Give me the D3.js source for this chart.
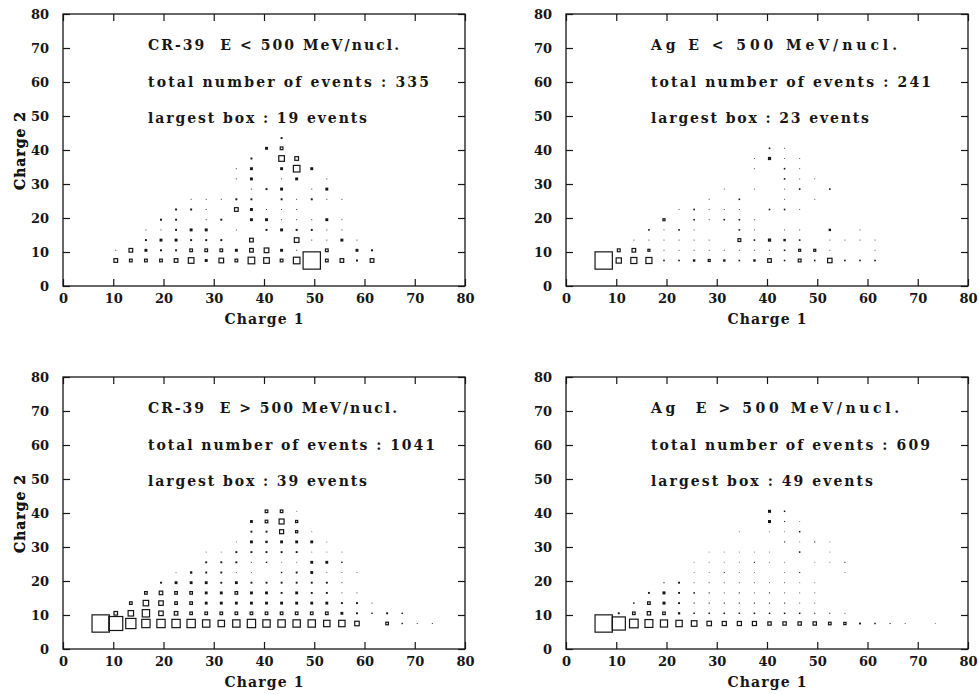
<!DOCTYPE html>
<html>
<head>
<meta charset="utf-8">
<script src="https://cdn.jsdelivr.net/npm/d3@7"></script>
<style>
  html, body { margin: 0; padding: 0; background: #fff; }
  svg { display: block; }
  text { font-family: "DejaVu Serif", serif; font-weight: bold; fill: #161616; }
</style>
</head>
<body>
<svg id="chart" width="979" height="694"></svg>
<script>
// ---- data -------------------------------------------------------------
const axisTicks = [0, 10, 20, 30, 40, 50, 60, 70, 80];
const panelTitles = ["CR-39  E < 500 MeV/nucl.", "Ag E < 500 MeV/nucl.",
                     "CR-39  E > 500 MeV/nucl.", "Ag  E > 500 MeV/nucl."];
const totalEvents = [335, 241, 1041, 609];
const largestBox = [19, 23, 39, 49];

// cells: [charge 1, charge 2, events], bins 3 charge units wide
const crLowCells = [
  [10.5,7.5,5],[13.5,7.5,4],[16.5,7.5,4],[19.5,7.5,4],[22.5,7.5,5],[25.5,7.5,7],[28.5,7.5,3],[31.5,7.5,6],[34.5,7.5,4],
  [37.5,7.5,8],[40.5,7.5,7],[43.5,7.5,4],[46.5,7.5,8],[49.5,7.5,19],[52.5,7.5,4],[55.5,7.5,5],[58.5,7.5,2],[61.5,7.5,5],
  [10.5,10.5,1],[13.5,10.5,5],[16.5,10.5,3],[19.5,10.5,2],[22.5,10.5,2],[25.5,10.5,4],[28.5,10.5,4],[31.5,10.5,4],
  [34.5,10.5,3],[37.5,10.5,5],[40.5,10.5,6],[43.5,10.5,3],[46.5,10.5,1],[52.5,10.5,4],[58.5,10.5,3],[61.5,10.5,2],
  [16.5,13.5,2],[19.5,13.5,3],[22.5,13.5,3],[25.5,13.5,2],[28.5,13.5,2],[31.5,13.5,2],[37.5,13.5,5],[46.5,13.5,6],
  [49.5,13.5,1],[52.5,13.5,1],[55.5,13.5,3],[58.5,13.5,1],
  [16.5,16.5,1],[19.5,16.5,1],[22.5,16.5,2],[25.5,16.5,3],[28.5,16.5,3],[34.5,16.5,1],[40.5,16.5,2],[43.5,16.5,3],
  [46.5,16.5,2],[49.5,16.5,2],[52.5,16.5,1],[55.5,16.5,1],
  [19.5,19.5,2],[22.5,19.5,2],[28.5,19.5,1],[31.5,19.5,2],[37.5,19.5,3],[40.5,19.5,3],[43.5,19.5,1],[46.5,19.5,1],
  [49.5,19.5,1],[52.5,19.5,3],[55.5,19.5,1],
  [22.5,22.5,2],[25.5,22.5,2],[28.5,22.5,1],[34.5,22.5,5],[37.5,22.5,3],[40.5,22.5,1],[43.5,22.5,1],[46.5,22.5,1],
  [25.5,25.5,1],[28.5,25.5,1],[31.5,25.5,1],[34.5,25.5,2],[37.5,25.5,2],[43.5,25.5,2],[46.5,25.5,1],[49.5,25.5,2],
  [52.5,25.5,1],[55.5,25.5,1],
  [37.5,28.5,1],[40.5,28.5,2],[43.5,28.5,3],[49.5,28.5,1],[52.5,28.5,3],
  [34.5,31.5,1],[37.5,31.5,3],[43.5,31.5,1],[46.5,31.5,3],[52.5,31.5,1],
  [34.5,34.5,1],[37.5,34.5,3],[43.5,34.5,3],[46.5,34.5,8],[49.5,34.5,3],
  [37.5,37.5,2],[43.5,37.5,7],[46.5,37.5,5],
  [40.5,40.5,3],[43.5,40.5,4],
  [43.5,43.5,2]
];

const agLowCells = [
  [7.5,7.5,23],[10.5,7.5,8],[13.5,7.5,9],[16.5,7.5,9],[19.5,7.5,2],[22.5,7.5,2],[25.5,7.5,3],[28.5,7.5,4],[31.5,7.5,3],
  [34.5,7.5,2],[37.5,7.5,3],[40.5,7.5,6],[43.5,7.5,2],[46.5,7.5,5],[49.5,7.5,2],[52.5,7.5,7],[55.5,7.5,2],[58.5,7.5,2],[61.5,7.5,2],
  [10.5,10.5,5],[13.5,10.5,6],[16.5,10.5,4],[19.5,10.5,1],[22.5,10.5,1],[25.5,10.5,1],[28.5,10.5,1],[31.5,10.5,1],
  [34.5,10.5,1],[37.5,10.5,1],[40.5,10.5,1],[43.5,10.5,2],[46.5,10.5,4],[49.5,10.5,4],[52.5,10.5,1],[61.5,10.5,1],
  [13.5,13.5,1],[16.5,13.5,1],[19.5,13.5,1],[22.5,13.5,1],[25.5,13.5,1],[28.5,13.5,1],[34.5,13.5,5],[37.5,13.5,2],
  [40.5,13.5,4],[43.5,13.5,3],[46.5,13.5,2],[52.5,13.5,1],[55.5,13.5,1],[58.5,13.5,1],[61.5,13.5,1],
  [16.5,16.5,2],[19.5,16.5,1],[22.5,16.5,2],[25.5,16.5,1],[34.5,16.5,2],[37.5,16.5,1],[43.5,16.5,1],[46.5,16.5,1],
  [52.5,16.5,3],[58.5,16.5,1],
  [19.5,19.5,4],[25.5,19.5,2],[28.5,19.5,1],[31.5,19.5,2],[34.5,19.5,2],[37.5,19.5,1],
  [22.5,22.5,1],[25.5,22.5,2],[28.5,22.5,1],[31.5,22.5,1],[34.5,22.5,1],[40.5,22.5,2],[43.5,22.5,2],[46.5,22.5,1],
  [28.5,25.5,1],[34.5,25.5,2],[43.5,25.5,1],[49.5,25.5,1],
  [31.5,28.5,1],[37.5,28.5,1],[43.5,28.5,1],[46.5,28.5,2],[52.5,28.5,2],
  [43.5,31.5,2],[46.5,31.5,1],[49.5,31.5,1],
  [37.5,34.5,1],[43.5,34.5,2],[46.5,34.5,1],
  [37.5,37.5,1],[40.5,37.5,4],[43.5,37.5,1],[46.5,37.5,1],
  [40.5,40.5,2],[43.5,40.5,1]
];

const crHighCells = [
  [7.5,7.5,39],[10.5,7.5,32],[13.5,7.5,24],[16.5,7.5,20],[19.5,7.5,20],[22.5,7.5,20],[25.5,7.5,20],[28.5,7.5,18],
  [31.5,7.5,16],[34.5,7.5,18],[37.5,7.5,20],[40.5,7.5,18],[43.5,7.5,18],[46.5,7.5,18],[49.5,7.5,18],[52.5,7.5,16],
  [55.5,7.5,16],[58.5,7.5,12],[64.5,7.5,8],[67.5,7.5,3],[70.5,7.5,2],[73.5,7.5,2],
  [10.5,10.5,10],[13.5,10.5,14],[16.5,10.5,18],[19.5,10.5,12],[22.5,10.5,10],[25.5,10.5,8],[28.5,10.5,8],[31.5,10.5,8],
  [34.5,10.5,8],[37.5,10.5,8],[40.5,10.5,8],[43.5,10.5,8],[46.5,10.5,8],[49.5,10.5,8],[52.5,10.5,8],[55.5,10.5,6],
  [58.5,10.5,4],[61.5,10.5,3],[64.5,10.5,4],[67.5,10.5,3],
  [13.5,13.5,8],[16.5,13.5,14],[19.5,13.5,12],[22.5,13.5,8],[25.5,13.5,8],[28.5,13.5,6],[31.5,13.5,6],[34.5,13.5,6],
  [37.5,13.5,6],[40.5,13.5,6],[43.5,13.5,6],[46.5,13.5,6],[49.5,13.5,6],[52.5,13.5,6],[55.5,13.5,4],[58.5,13.5,4],[61.5,13.5,2],
  [16.5,16.5,8],[19.5,16.5,10],[22.5,16.5,8],[25.5,16.5,8],[28.5,16.5,6],[31.5,16.5,6],[34.5,16.5,8],[37.5,16.5,6],
  [40.5,16.5,6],[43.5,16.5,4],[46.5,16.5,6],[49.5,16.5,4],[52.5,16.5,4],[55.5,16.5,2],[58.5,16.5,2],
  [19.5,19.5,4],[22.5,19.5,6],[25.5,19.5,6],[28.5,19.5,6],[31.5,19.5,4],[34.5,19.5,6],[37.5,19.5,4],[40.5,19.5,4],
  [43.5,19.5,4],[46.5,19.5,4],[49.5,19.5,4],[52.5,19.5,4],[55.5,19.5,2],
  [22.5,22.5,1],[25.5,22.5,5],[28.5,22.5,4],[31.5,22.5,4],[34.5,22.5,1],[37.5,22.5,1],[43.5,22.5,3],[46.5,22.5,4],
  [49.5,22.5,6],[52.5,22.5,1],[55.5,22.5,1],[58.5,22.5,1],
  [28.5,25.5,4],[31.5,25.5,4],[34.5,25.5,4],[37.5,25.5,2],[40.5,25.5,3],[43.5,25.5,1],[46.5,25.5,1],[49.5,25.5,6],
  [52.5,25.5,6],[55.5,25.5,3],
  [28.5,28.5,1],[31.5,28.5,1],[34.5,28.5,4],[37.5,28.5,4],[40.5,28.5,4],[43.5,28.5,4],[46.5,28.5,4],[49.5,28.5,1],
  [52.5,28.5,1],[55.5,28.5,1],
  [34.5,31.5,1],[37.5,31.5,6],[40.5,31.5,5],[43.5,31.5,6],[46.5,31.5,6],[49.5,31.5,6],[52.5,31.5,1],
  [37.5,34.5,4],[40.5,34.5,4],[43.5,34.5,11],[46.5,34.5,7],[49.5,34.5,1],
  [37.5,37.5,6],[40.5,37.5,8],[43.5,37.5,13],[46.5,37.5,7],
  [40.5,40.5,8],[43.5,40.5,8],[46.5,40.5,1]
];

const agHighCells = [
  [7.5,7.5,49],[10.5,7.5,38],[13.5,7.5,26],[16.5,7.5,24],[19.5,7.5,22],[22.5,7.5,20],[25.5,7.5,18],[28.5,7.5,15],
  [31.5,7.5,14],[34.5,7.5,14],[37.5,7.5,14],[40.5,7.5,12],[43.5,7.5,12],[46.5,7.5,12],[49.5,7.5,12],[52.5,7.5,10],
  [55.5,7.5,9],[58.5,7.5,5],[61.5,7.5,4],[64.5,7.5,3],[67.5,7.5,2],[73.5,7.5,1],
  [10.5,10.5,5],[13.5,10.5,10],[16.5,10.5,12],[19.5,10.5,10],[22.5,10.5,6],[25.5,10.5,4],[28.5,10.5,4],[31.5,10.5,4],
  [34.5,10.5,4],[37.5,10.5,4],[40.5,10.5,4],[43.5,10.5,4],[46.5,10.5,4],[49.5,10.5,3],[52.5,10.5,3],[55.5,10.5,2],
  [13.5,13.5,4],[16.5,13.5,10],[19.5,13.5,8],[22.5,13.5,5],[25.5,13.5,3],[28.5,13.5,3],[31.5,13.5,3],[34.5,13.5,3],
  [37.5,13.5,3],[40.5,13.5,3],[43.5,13.5,3],[46.5,13.5,2],[49.5,13.5,2],
  [16.5,16.5,5],[19.5,16.5,8],[22.5,16.5,5],[25.5,16.5,4],[28.5,16.5,3],[31.5,16.5,2],[34.5,16.5,3],[37.5,16.5,2],
  [40.5,16.5,3],[43.5,16.5,2],[46.5,16.5,2],[49.5,16.5,2],
  [19.5,19.5,3],[22.5,19.5,5],[25.5,19.5,2],[28.5,19.5,2],[31.5,19.5,2],[34.5,19.5,2],[37.5,19.5,2],[40.5,19.5,2],
  [43.5,19.5,2],[46.5,19.5,1],[49.5,19.5,1],
  [25.5,22.5,1],[28.5,22.5,1],[31.5,22.5,3],[34.5,22.5,1],[37.5,22.5,1],[43.5,22.5,1],[46.5,22.5,3],[55.5,22.5,1],
  [25.5,25.5,1],[28.5,25.5,1],[31.5,25.5,1],[34.5,25.5,1],[37.5,25.5,3],[40.5,25.5,1],[43.5,25.5,1],[49.5,25.5,1],
  [52.5,25.5,1],[55.5,25.5,3],
  [28.5,28.5,1],[31.5,28.5,1],[34.5,28.5,1],[37.5,28.5,1],[40.5,28.5,1],[46.5,28.5,4],[52.5,28.5,1],
  [43.5,31.5,3],[46.5,31.5,1],[49.5,31.5,3],[52.5,31.5,1],
  [34.5,34.5,1],[40.5,34.5,1],[43.5,34.5,1],[46.5,34.5,4],
  [40.5,37.5,8],[43.5,37.5,3],[46.5,37.5,1],
  [40.5,40.5,8],[43.5,40.5,4]
];

const panelCells = [crLowCells, agLowCells, crHighCells, agHighCells];

// ---- layout -----------------------------------------------------------
const frames = [
  { left: 63,  top: 14 },
  { left: 566, top: 14 },
  { left: 63,  top: 377 },
  { left: 566, top: 377 }
];
const plotW = 402, plotH = 272;
const maxSide = 18.5;          // pixel side of the largest box
const ink = "#161616";
const titleLengths = [251, 246, 249, 248];
const totalLengths = [281, 280, 287, 279];
const largestLengths = [219, 218, 219, 222];

const svg = d3.select("#chart");

frames.forEach((f, i) => {
  const g = svg.append("g").attr("transform", `translate(${f.left},${f.top})`);
  const x = d3.scaleLinear().domain([0, 80]).range([0, plotW]);
  const y = d3.scaleLinear().domain([0, 80]).range([plotH, 0]);

  // axes: ticks point into the frame on all four sides
  const bottom = g.append("g").attr("transform", `translate(0,${plotH})`)
    .call(d3.axisBottom(x).tickValues(axisTicks).tickSizeInner(-7).tickSizeOuter(0).tickPadding(8));
  const left = g.append("g")
    .call(d3.axisLeft(y).tickValues(axisTicks).tickSizeInner(-7).tickSizeOuter(0).tickPadding(14));
  const top = g.append("g")
    .call(d3.axisTop(x).tickValues(axisTicks).tickSizeInner(-7).tickSizeOuter(0).tickFormat(""));
  const right = g.append("g").attr("transform", `translate(${plotW},0)`)
    .call(d3.axisRight(y).tickValues(axisTicks).tickSizeInner(-7).tickSizeOuter(0).tickFormat(""));
  [bottom, left, top, right].forEach(a => {
    a.select(".domain").remove();
    a.selectAll(".tick line").attr("stroke", ink).attr("stroke-width", 1.2);
    a.selectAll(".tick text").attr("font-family", "DejaVu Serif").attr("font-weight", "bold")
      .attr("font-size", 13).attr("fill", ink);
  });

  // frame
  g.append("rect").attr("x", 0).attr("y", 0).attr("width", plotW).attr("height", plotH)
    .attr("fill", "none").attr("stroke", ink).attr("stroke-width", 1.3);

  // axis titles
  g.append("text").attr("x", plotW / 2).attr("y", plotH + 38).attr("text-anchor", "middle")
    .attr("font-size", 14).attr("textLength", 79).attr("lengthAdjust", "spacing").text("Charge 1");
  g.append("text").attr("transform", `translate(${-f.left + 25},${plotH / 2 + 1}) rotate(-90)`)
    .attr("text-anchor", "middle").attr("font-size", 14).attr("textLength", 78)
    .attr("lengthAdjust", "spacing").text("Charge 2");

  // annotation lines
  const notes = [
    [panelTitles[i], titleLengths[i], 36],
    [`total number of events : ${totalEvents[i]}`, totalLengths[i], 73],
    [`largest box : ${largestBox[i]} events`, largestLengths[i], 108.5]
  ];
  notes.forEach(([t, len, dy]) => {
    g.append("text").attr("x", 85).attr("y", dy).attr("font-size", 14)
      .attr("xml:space", "preserve").style("white-space", "pre")
      .attr("textLength", len).attr("lengthAdjust", "spacing").text(t);
  });

  // boxes: side proportional to the number of events in the cell
  const side = d3.scaleLinear().domain([0, largestBox[i]]).range([0, maxSide]);
  const sw = 1.2;
  const cells = panelCells[i];
  g.append("g").selectAll("rect").data(cells).join("rect")
    .each(function (d) {
      const s = side(d[2]);
      const cx = x(d[0]), cy = y(d[1]);
      const r = d3.select(this);
      if (s >= 3.2) {
        r.attr("x", cx - (s - sw) / 2).attr("y", cy - (s - sw) / 2)
          .attr("width", s - sw).attr("height", s - sw)
          .attr("fill", "none").attr("stroke", ink).attr("stroke-width", sw);
      } else {
        const w = Math.max(s, 1);
        r.attr("x", cx - w / 2).attr("y", cy - w / 2).attr("width", w).attr("height", w)
          .attr("fill", ink).attr("fill-opacity", Math.min(1, 0.35 + s / 2));
      }
    });
});
</script>
</body>
</html>
